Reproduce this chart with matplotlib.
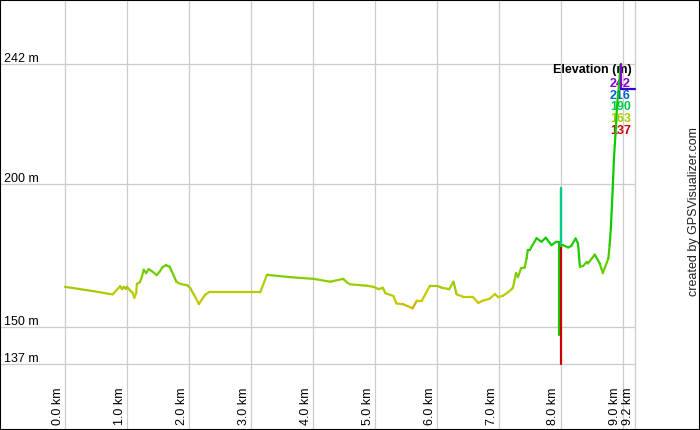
import numpy as np
import matplotlib
matplotlib.use("Agg")
import matplotlib.pyplot as plt
import matplotlib.colors as mcolors
from matplotlib.collections import LineCollection

# track profile (km, m), up to the glitch near 8 km
track_km = [0.00, 0.46, 0.72, 0.77, 0.89, 0.92, 0.95, 0.98, 1.00, 1.06, 1.09, 1.12, 1.15, 1.16,
            1.21, 1.24, 1.27, 1.31, 1.35, 1.42, 1.48, 1.53, 1.57, 1.63, 1.69, 1.72, 1.80, 1.87,
            1.98, 2.02, 2.10, 2.16, 2.26, 2.32, 3.15, 3.26, 3.63, 4.01, 4.28, 4.49, 4.55, 4.60,
            4.87, 4.98, 5.06, 5.13, 5.17, 5.30, 5.35, 5.46, 5.61, 5.68, 5.76, 5.89, 6.00, 6.08,
            6.20, 6.27, 6.32, 6.43, 6.58, 6.67, 6.75, 6.85, 6.94, 6.99, 7.07, 7.15, 7.21, 7.23,
            7.25, 7.28, 7.31, 7.36, 7.42, 7.45, 7.47, 7.50, 7.61, 7.69, 7.76, 7.85, 7.93, 7.97,
            7.97]
track_m = [164.0, 162.5, 161.5, 161.4, 164.2, 163.2, 164.0, 163.3, 164.0, 162.5, 162.0, 160.2, 161.9, 165.0,
           165.7, 167.4, 170.0, 168.8, 170.2, 169.2, 168.1, 169.4, 170.8, 171.6, 171.0, 169.6, 165.7, 165.0,
           164.5, 163.6, 160.5, 158.0, 161.2, 162.1, 162.1, 168.2, 167.4, 166.8, 165.8, 166.8, 165.6, 164.9,
           164.4, 164.0, 163.2, 163.7, 161.8, 160.8, 158.2, 157.9, 156.5, 159.2, 159.2, 164.4, 164.4, 163.7,
           163.2, 165.8, 161.4, 160.5, 160.5, 158.4, 159.2, 159.8, 161.5, 160.4, 160.9, 162.1, 163.2, 163.8,
           165.8, 168.8, 167.4, 170.5, 170.8, 174.0, 176.9, 176.9, 181.0, 179.8, 181.2, 178.6, 179.8, 179.8,
           147.2]

# glitch spike at 8 km
spike_km = [8.005, 8.005, 8.005, 8.005]
spike_m = [137.0, 178.4, 198.6, 178.4]

# rest of the track, with the final climb
track2_km = [8.005, 8.04, 8.12, 8.17, 8.24, 8.28, 8.31, 8.36, 8.42, 8.44, 8.55, 8.63, 8.68, 8.71,
             8.77, 8.79, 8.81, 8.84, 8.86, 8.89, 8.91, 8.95, 8.96]
track2_m = [178.4, 178.6, 177.8, 178.3, 180.9, 179.2, 171.0, 171.3, 172.7, 172.2, 175.3, 172.2, 168.8, 170.5,
            174.0, 178.6, 184.5, 198.5, 209.0, 219.5, 227.6, 236.4, 241.7]

tail_km = [8.97, 8.97, 9.20]
tail_m = [242.0, 233.1, 233.1]

grid_m = [137, 150, 200, 242]
grid_km = [0, 1, 2, 3, 4, 5, 6, 7, 8, 9, 9.2]
legend_m = [242, 216, 190, 163, 137]

W, H = 700, 430
PX_KM = 61.96
PX_M = 120 / 42


def elev_color(m):
    t = np.clip((m - 137) / 105, 0, 1)
    return mcolors.hsv_to_rgb((t * 280 / 360, 1, 0.8))


def seg_collection(xs, ys, cap=None):
    pts = np.column_stack([xs, ys])
    segs = np.stack([pts[:-1], pts[1:]], axis=1)
    cv = np.array(ys[:-1])
    if cap is not None:
        cv = np.minimum(cv, cap)
    cols = [elev_color(v) for v in cv]
    return LineCollection(segs, colors=cols, linewidths=1.6, capstyle="round",
                          joinstyle="round", zorder=5)


plt.rcParams["font.family"] = ["Liberation Sans", "DejaVu Sans"]

fig = plt.figure(figsize=(W / 100, H / 100), dpi=100)
ax = fig.add_axes([0, 0, 1, 1])
ax.set_xlim(-65 / PX_KM, (W - 65) / PX_KM)
ax.set_ylim(242 - (H - 64) / PX_M, 242 + 64 / PX_M)
ax.set_xticks([])
ax.set_yticks([])
for s in ax.spines.values():
    s.set_color("black")
    s.set_linewidth(1.5)

# grid
for k in grid_km:
    ax.axvline(k, color="#cccccc", lw=0.9, zorder=1)
ax.hlines(grid_m, -65 / PX_KM, 9.2, color="#cccccc", lw=0.9, zorder=1)

# labels
for m in grid_m:
    ax.text(3.5 / W, 1 - (64 + (242 - m) * PX_M - 1.5) / H, f"{m} m",
            transform=ax.transAxes, ha="left", va="baseline", fontsize=9)
for k in grid_km:
    ax.text(k - 1.2 / PX_KM, 242 - (425 - 64) / PX_M, f"{k:.1f} km",
            rotation=90, ha="right", va="bottom", fontsize=9)

# legend
ax.text(631.5 / W, 1 - 70 / H, "Elevation (m)", transform=ax.transAxes,
        ha="right", va="center", fontsize=9, fontweight="bold", zorder=3)
for i, m in enumerate(legend_m):
    ax.text(631 / W, 1 - (84.3 + i * 11.6) / H, str(m), transform=ax.transAxes,
            ha="right", va="center", fontsize=9, fontweight="bold",
            color=elev_color(m), zorder=3)

# profile
ax.add_collection(seg_collection(track_km, track_m, cap=181))
ax.add_collection(seg_collection(spike_km, spike_m))
ax.add_collection(seg_collection(track2_km, track2_m, cap=181))
ax.add_collection(seg_collection(tail_km, tail_m))

ax.text(694 / W, 1 - 212 / H, "created by GPSVisualizer.com", transform=ax.transAxes,
        rotation=90, ha="center", va="center", fontsize=9, color="#222222")

fig.savefig("out.png", dpi=100)
